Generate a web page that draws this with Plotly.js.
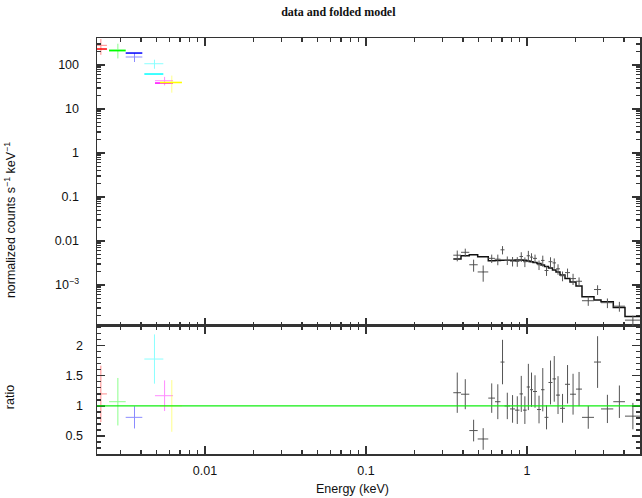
<!DOCTYPE html>
<html>
<head>
<meta charset="utf-8">
<script src="https://cdn.plot.ly/plotly-3.0.1.min.js"></script>
<style>
  html, body { margin: 0; padding: 0; background: #fff; }
  #chart { width: 642px; height: 498px; }
</style>
</head>
<body>
<div id="chart"></div>
<script>
/* data and folded model: optical/UV filters + X-ray spectrum, with ratio panel */

// optical / UV filter points (keV)
const OPT_COLORS = ['#ff0000', '#00ff00', '#0000ff', '#00ffff', '#ff00ff', '#ffff00'];
const optLo = [0.00205, 0.002535, 0.003217, 0.0042, 0.00489, 0.00525];
const optHi = [0.00246, 0.003217, 0.00408, 0.00551, 0.00633, 0.00719];
const optData = [280, 223, 152, 107, 44, 40.5];
const optErr = [110, 82, 35, 25, 9.6, 17];
const optModel = [231, 212, 187, 62.4, 38.9, 40];
const optRatio = [1.2, 1.07, 0.81, 1.78, 1.17, 1.0];
const optRatioErr = [0.47, 0.395, 0.185, 0.41, 0.255, 0.43];

// X-ray channel edges (keV), 30 bins
const xEdges = [0.3485, 0.3891, 0.4381, 0.4940, 0.5748, 0.6327, 0.6846, 0.7248, 0.7843, 0.8424,
  0.8984, 0.9445, 0.9956, 1.0438, 1.0897, 1.1537, 1.2218, 1.2844, 1.3598, 1.4399,
  1.5136, 1.6032, 1.7219, 1.8497, 2.0152, 2.1959, 2.6070, 2.8818, 3.4356, 4.0615, 5.0328];
const xData = [0.004758, 0.005533, 0.002885, 0.00198, 0.004034, 0.003857, 0.006302, 0.003643, 0.003479, 0.003442,
  0.004441, 0.003388, 0.004617, 0.004298, 0.004025, 0.002895, 0.003617, 0.002134, 0.003385, 0.00318,
  0.00233, 0.00162, 0.001911, 0.001398, 0.001215, 0.000439, 0.000789, 0.000396, 0.00033, 0.000159];
const xErr = [0.001307, 0.001158, 0.00088, 0.000792, 0.000875, 0.001045, 0.001348, 0.000801, 0.000842, 0.000851,
  0.00111, 0.000838, 0.001352, 0.000964, 0.000876, 0.000708, 0.001025, 0.000527, 0.000889, 0.000833,
  0.000622, 0.000405, 0.00045, 0.000398, 0.00027, 0.000103, 0.000196, 0.000098, 0.000083, 0.000042];
const xModel = [0.0039, 0.00463, 0.00489, 0.0044, 0.00357, 0.003605, 0.003643, 0.003643, 0.003662, 0.003701,
  0.003701, 0.003643, 0.003511, 0.003384, 0.003246, 0.00308, 0.002848, 0.002634, 0.002435, 0.002193,
  0.001975, 0.001688, 0.001405, 0.00117, 0.000949, 0.000542, 0.000456, 0.000417, 0.000308, 0.000192];
const xRatio = [1.22, 1.195, 0.59, 0.45, 1.13, 1.07, 1.73, 1.0, 0.95, 0.93,
  1.2, 0.93, 1.315, 1.27, 1.24, 0.94, 1.27, 0.81, 1.39, 1.45,
  1.18, 0.96, 1.36, 1.195, 1.28, 0.81, 1.73, 0.95, 1.07, 0.83];
const xRatioErr = [0.335, 0.25, 0.18, 0.18, 0.245, 0.29, 0.37, 0.22, 0.23, 0.23,
  0.3, 0.23, 0.385, 0.285, 0.27, 0.23, 0.36, 0.2, 0.365, 0.38,
  0.315, 0.24, 0.32, 0.34, 0.285, 0.19, 0.43, 0.235, 0.27, 0.22];

const RATIO_REF = 1;

const AXIS_COLOR = '#333';
const XRAY_COLOR = '#555';
const FONT = 'Liberation Sans, Arial, sans-serif';

function crossTrace(lo, hi, y, err, color, yaxis, opacity) {
  const x = lo.map((l, i) => (l + hi[i]) / 2);
  return {
    type: 'scatter', mode: 'markers', xaxis: yaxis === 'y2' ? 'x2' : 'x', yaxis: yaxis,
    x: x, y: y,
    marker: { size: 1, color: color, opacity: opacity },
    error_x: { type: 'data', symmetric: false, array: hi.map((h, i) => h - x[i]),
      arrayminus: lo.map((l, i) => x[i] - l), color: color, thickness: 1, width: 0 },
    error_y: { type: 'data', array: err, color: color, thickness: 1, width: 0 },
    opacity: opacity, hoverinfo: 'skip', showlegend: false
  };
}

const traces = [];

// optical: model bars and data crosses (top), ratio crosses (bottom)
OPT_COLORS.forEach((c, i) => {
  traces.push({
    type: 'scatter', mode: 'lines', xaxis: 'x2', yaxis: 'y2',
    x: [optLo[i], optHi[i]], y: [optModel[i], optModel[i]],
    line: { color: c, width: 1.5 }, hoverinfo: 'skip', showlegend: false
  });
  traces.push(crossTrace([optLo[i]], [optHi[i]], [optData[i]], [optErr[i]], c, 'y2', 0.45));
  traces.push(crossTrace([optLo[i]], [optHi[i]], [optRatio[i]], [optRatioErr[i]], c, 'y', 0.45));
});

// X-ray folded model as histogram steps
traces.push({
  type: 'scatter', mode: 'lines', xaxis: 'x2', yaxis: 'y2',
  x: xEdges, y: xModel.concat([xModel[xModel.length - 1]]),
  line: { color: '#111', width: 1.5, shape: 'hv' }, hoverinfo: 'skip', showlegend: false
});
traces.push(crossTrace(xEdges.slice(0, -1), xEdges.slice(1), xData, xErr, XRAY_COLOR, 'y2', 1));
traces.push(crossTrace(xEdges.slice(0, -1), xEdges.slice(1), xRatio, xRatioErr, XRAY_COLOR, 'y', 1));

// tick helpers
function logMinors(d0, d1) {
  const v = [];
  for (let d = d0; d <= d1; d++) for (let k = 2; k <= 9; k++) v.push(k * Math.pow(10, d));
  return v;
}
function linMinors(a, b, step) {
  const v = [];
  for (let t = a; t <= b + 1e-9; t += step) v.push(+t.toFixed(3));
  return v;
}

const common = {
  showline: true, linecolor: AXIS_COLOR, linewidth: 1.5, mirror: 'allticks',
  ticks: 'inside', ticklen: 8, tickwidth: 1.2, tickcolor: AXIS_COLOR,
  showgrid: false, zeroline: false,
  tickfont: { family: FONT, size: 12.5, color: '#111' }
};

const X_RANGE = [-2.6708, 0.7019];

const layout = {
  width: 642, height: 498,
  paper_bgcolor: '#fff', plot_bgcolor: '#fff',
  margin: { l: 97, r: 2, t: 38, b: 44 },
  showlegend: false,
  title: { text: '<b>data and folded model</b>', x: 0.527, xanchor: 'center', y: 0.976, yanchor: 'middle',
    font: { family: 'Liberation Serif, Times New Roman, serif', size: 12, color: '#111' } },
  xaxis: { ...common, type: 'log', range: X_RANGE, anchor: 'y',
    tickmode: 'array', tickvals: [0.01, 0.1, 1], ticktext: ['0.01', '0.1', '1'],
    ticklabelstandoff: 4,
    minor: { ticks: 'inside', ticklen: 4, tickcolor: AXIS_COLOR, tickwidth: 1.2,
      tickmode: 'array', tickvals: logMinors(-3, 0) } },
  xaxis2: { ...common, type: 'log', range: X_RANGE, anchor: 'y2', matches: 'x', showticklabels: false,
    tickmode: 'array', tickvals: [0.01, 0.1, 1],
    minor: { ticks: 'inside', ticklen: 4, tickcolor: AXIS_COLOR, tickwidth: 1.2,
      tickmode: 'array', tickvals: logMinors(-3, 0) } },
  yaxis: { ...common, domain: [0, 0.3077], range: [0.2, 2.33], anchor: 'x',
    tickmode: 'array', tickvals: [0.5, 1, 1.5, 2], ticktext: ['0.5', '1', '1.5', '2'],
    ticklabelstandoff: 10,
    minor: { ticks: 'inside', ticklen: 4, tickcolor: AXIS_COLOR, tickwidth: 1.2,
      tickmode: 'array', tickvals: linMinors(0.3, 2.3, 0.1) } },
  yaxis2: { ...common, type: 'log', domain: [0.3077, 1], range: [-3.932, 2.614], anchor: 'x2',
    tickmode: 'array', tickvals: [0.001, 0.01, 0.1, 1, 10, 100],
    ticktext: ['10<sup>\u22123</sup>', '0.01', '0.1', '1', '10', '100'],
    ticklabelstandoff: 14,
    minor: { ticks: 'inside', ticklen: 4, tickcolor: AXIS_COLOR, tickwidth: 1.2,
      tickmode: 'array', tickvals: logMinors(-4, 2) } },
  shapes: [{ type: 'line', xref: 'x domain', yref: 'y', x0: 0, x1: 1, y0: RATIO_REF, y1: RATIO_REF,
    line: { color: '#11ee11', width: 1.2 }, layer: 'above' }],
  annotations: [
    { text: 'normalized counts s<sup>\u22121</sup> keV<sup>\u22121</sup>', textangle: -90,
      xref: 'paper', yref: 'paper', x: -0.160, y: 0.5625, xanchor: 'center', yanchor: 'middle',
      showarrow: false, font: { family: FONT, size: 12.5, color: '#111' } },
    { text: 'ratio', textangle: -90, xref: 'paper', yref: 'paper', x: -0.160, y: 0.137,
      xanchor: 'center', yanchor: 'middle', showarrow: false, font: { family: FONT, size: 12.5, color: '#111' } },
    { text: 'Energy (keV)', xref: 'paper', yref: 'paper', x: 0.471, y: -0.084,
      xanchor: 'center', yanchor: 'middle', showarrow: false, font: { family: FONT, size: 12.5, color: '#111' } }
  ]
};

Plotly.newPlot('chart', traces, layout, { displayModeBar: false, staticPlot: true });
</script>
</body>
</html>
